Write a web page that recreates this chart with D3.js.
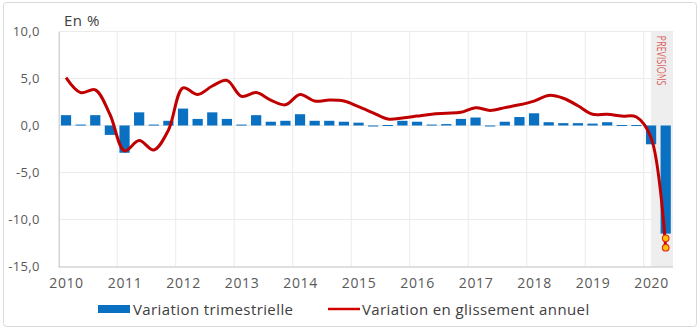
<!DOCTYPE html>
<html>
<head>
<meta charset="utf-8">
<script src="https://cdn.jsdelivr.net/npm/d3@7"></script>
<style>
  html, body { margin: 0; padding: 0; background: #fff; }
  svg { display: block; font-family: "Open Sans", "Noto Sans", sans-serif; }
</style>
</head>
<body>
<svg id="chart" width="700" height="330"></svg>
<script>
// Quarterly and year-on-year change of activity, 2010 Q1 – 2020 Q2 (in %)
const years = [2010, 2011, 2012, 2013, 2014, 2015, 2016, 2017, 2018, 2019, 2020];
const quarterNames = ["T1", "T2", "T3", "T4"];

// Variation trimestrielle (bars)
const quarterly = [
  1.1, 0.1, 1.1, -1.0,
  -2.9, 1.4, 0.1, 0.5,
  1.8, 0.7, 1.4, 0.7,
  0.1, 1.1, 0.4, 0.5,
  1.2, 0.5, 0.5, 0.4,
  0.3, -0.1, 0.05, 0.5,
  0.4, 0.1, 0.15, 0.7,
  0.85, -0.1, 0.4, 0.9,
  1.3, 0.35, 0.25, 0.25,
  0.2, 0.35, 0.05, 0.05,
  -2.0, -11.5
];

// Variation en glissement annuel (smoothed line)
const annual = [
  5.1, 3.5, 3.8, 1.2,
  -2.7, -1.6, -2.6, -0.5,
  4.0, 3.3, 4.2, 4.8,
  3.1, 3.5, 2.7, 2.2,
  3.3, 2.6, 2.7, 2.6,
  2.0, 1.35, 0.7, 0.8,
  1.0, 1.2, 1.3, 1.4,
  1.9, 1.6, 1.9, 2.2,
  2.6, 3.2, 2.9, 2.1,
  1.2, 1.2, 1.0, 0.9,
  -1.3, -13.0
];

// Forecast range for the last quarter (two scenarios)
const forecastValues = [-12.0, -13.0];
const forecastStartIndex = 40;   // 2020 T1 onwards is a forecast
const yTicks = [10, 5, 0, -5, -10, -15];
const legendLabels = ["Variation trimestrielle", "Variation en glissement annuel"];
const unitLabel = "En %";
const forecastLabel = "PREVISIONS";

// Periods: one per quarter, positioned on a continuous year axis
const periods = [];
years.forEach(yr => quarterNames.forEach((q, k) => periods.push({ year: yr, q: k, label: q + " " + yr })));
periods.length = quarterly.length;
const tOf = i => years[0] + (i + 0.5) / 4;

const svg = d3.select("#chart");

// frame
svg.append("rect")
  .attr("x", 3.5).attr("y", 2.5).attr("width", 693).attr("height", 324)
  .attr("rx", 3).attr("fill", "#fff").attr("stroke", "#d9d9d9");

const plotLeft = 58.7, plotRight = 673, plotTop = 31.5, plotBottom = 266.5;
const x = d3.scaleLinear().domain([years[0], years[0] + periods.length / 4]).range([plotLeft, plotRight]);
const y = d3.scaleLinear().domain([-15, 10]).range([plotBottom, plotTop]);
const step = x(years[0] + 0.25) - x(years[0]);
const barW = step * 0.7;

const fr = d3.formatLocale({ decimal: ",", thousands: " ", grouping: [3], currency: ["", " €"], minus: "-" });
const fmt = fr.format(".1f");

// forecast shading
const shadeX = x(tOf(forecastStartIndex));
svg.append("rect")
  .attr("x", shadeX)
  .attr("y", y(10))
  .attr("width", plotRight - shadeX)
  .attr("height", y(-15) - y(10))
  .attr("fill", "#eeeeee");

svg.append("text")
  .attr("transform", `translate(${shadeX + 5.5},${y(10) + 4}) rotate(90)`)
  .attr("font-size", 12)
  .attr("fill", "#d96262")
  .attr("textLength", 50)
  .attr("lengthAdjust", "spacingAndGlyphs")
  .text(forecastLabel);

// horizontal gridlines
svg.append("g").selectAll("line")
  .data(yTicks.filter(v => v !== -15))
  .join("line")
  .attr("x1", plotLeft).attr("x2", plotRight)
  .attr("y1", d => y(d)).attr("y2", d => y(d))
  .attr("stroke", "#ebebeb").attr("stroke-width", 1);

// vertical gridlines at year boundaries
svg.append("g").selectAll("line")
  .data(years.slice(1))
  .join("line")
  .attr("x1", d => x(d)).attr("x2", d => x(d))
  .attr("y1", plotTop).attr("y2", plotBottom)
  .attr("stroke", "#ebebeb").attr("stroke-width", 1);

// y axis
const yAxis = svg.append("g")
  .attr("transform", `translate(${plotLeft},0)`)
  .call(d3.axisLeft(y).tickValues(yTicks).tickFormat(fmt).tickSize(0).tickPadding(19));
yAxis.select(".domain").attr("stroke", "#bfbfbf");
yAxis.selectAll("text")
  .attr("font-size", 13).attr("fill", "#595959")
  .attr("font-family", "Open Sans, sans-serif").attr("letter-spacing", 0.3);

// x axis: labels sit under the first quarter of each year
const xAxis = svg.append("g")
  .attr("transform", `translate(0,${plotBottom})`)
  .call(d3.axisBottom(x).tickValues(years).tickFormat(d3.format("d")).tickSize(0).tickPadding(12));
xAxis.select(".domain").attr("stroke", "#bfbfbf").attr("d", `M${plotLeft},0.5H${plotRight}`);
xAxis.selectAll("text")
  .attr("dx", step / 2)
  .attr("font-size", 14).attr("fill", "#595959")
  .attr("font-family", "Open Sans, sans-serif").attr("letter-spacing", 0.6);

// bars
svg.append("g").selectAll("rect")
  .data(quarterly)
  .join("rect")
  .attr("x", (d, i) => x(tOf(i)) - barW / 2)
  .attr("width", barW)
  .attr("y", d => y(Math.max(0, d)))
  .attr("height", d => Math.max(1, Math.abs(y(d) - y(0))))
  .attr("fill", "#0a70c2");

// smoothed line
const line = d3.line()
  .x((d, i) => x(tOf(i)))
  .y(d => y(d))
  .curve(d3.curveCatmullRom.alpha(0.5));
svg.append("path")
  .datum(annual)
  .attr("d", line)
  .attr("fill", "none")
  .attr("stroke", "#c00000")
  .attr("stroke-width", 3)
  .attr("stroke-linejoin", "round");

// forecast markers
svg.append("g").selectAll("circle")
  .data(forecastValues)
  .join("circle")
  .attr("cx", x(tOf(periods.length - 1)))
  .attr("cy", d => y(d))
  .attr("r", 3.3)
  .attr("fill", "#ffc000")
  .attr("stroke", "#e0301e")
  .attr("stroke-width", 1.2);

// unit label
svg.append("text")
  .attr("x", 64).attr("y", 26)
  .attr("font-size", 15).attr("fill", "#404040").attr("letter-spacing", 0.5)
  .text(unitLabel);

// legend
const lg = svg.append("g").attr("font-size", 15).attr("fill", "#404040").attr("letter-spacing", 0.4);
lg.append("rect").attr("x", 98).attr("y", 305).attr("width", 32).attr("height", 8).attr("fill", "#0a70c2");
lg.append("text").attr("x", 133).attr("y", 314.5).text(legendLabels[0]);
lg.append("line").attr("x1", 328).attr("x2", 360).attr("y1", 309).attr("y2", 309)
  .attr("stroke", "#d00000").attr("stroke-width", 2.5);
lg.append("text").attr("x", 362).attr("y", 314.5).text(legendLabels[1]);
</script>
</body>
</html>
